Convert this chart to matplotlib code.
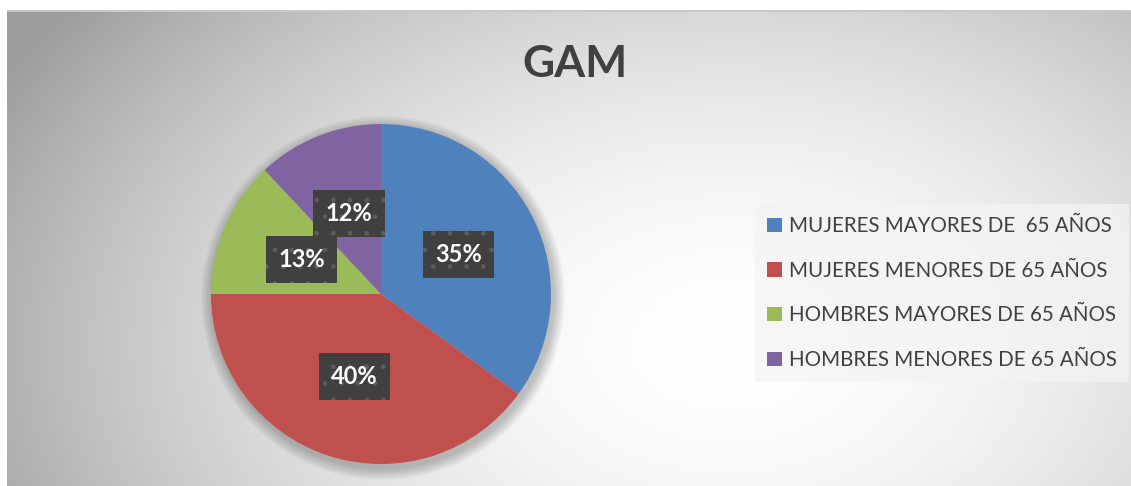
import numpy as np
import matplotlib.pyplot as plt
from matplotlib.patches import Circle, Rectangle

categories = ['MUJERES MAYORES DE  65 AÑOS', 'MUJERES MENORES DE 65 AÑOS',
              'HOMBRES MAYORES DE 65 AÑOS', 'HOMBRES MENORES DE 65 AÑOS']
values = [35, 40, 13, 12]
colors = ['#4f81bd', '#c0504d', '#9bbb59', '#8064a2']
title = 'GAM'

W, H = 1131, 486
fig = plt.figure(figsize=(W / 100, H / 100), dpi=100)
fig.patch.set_facecolor('white')
ax = fig.add_axes([0, 0, 1, 1])

# radial gradient background of the chart area
x0, x1, y0, y1 = 7, W, 0, H - 11
xx, yy = np.meshgrid(np.linspace(x0, x1, 400), np.linspace(y0, y1, 200))
d = np.sqrt(((xx - 730) / 640) ** 2 + ((yy - 140) / 430) ** 2)
g = 1 - 0.24 * np.clip(d, 0, 1.3) ** 1.8
ax.imshow(np.dstack([g, g, g]), extent=(x0, x1, y0, y1), origin='lower',
          aspect='auto', zorder=0, vmin=0, vmax=1)
ax.add_patch(Rectangle((x0, y1 - 1), x1 - x0, 1.5, color='#c8c8c8', lw=0, zorder=1))

# soft shadow under the pie
cx, cy, r = 381, 192, 170
for i in range(12):
    ax.add_patch(Circle((cx + 2, cy - 4), r + 12 - i, color='black', alpha=0.018,
                        lw=0, zorder=1))

wedges, texts, autotexts = ax.pie(values, colors=colors, startangle=90,
                                  counterclock=False, center=(cx, cy), radius=r,
                                  autopct='%1.0f%%', pctdistance=0.51,
                                  wedgeprops=dict(linewidth=0, zorder=2))
for w in wedges:
    w.set_zorder(2)
for t in autotexts:
    t.set_color('white')
    t.set_fontfamily('Lato')
    t.set_fontweight('bold')
    t.set_fontsize(17)
    t.set_zorder(5)
    t.set_bbox(dict(boxstyle='square,pad=0.52', facecolor='#404040',
                    edgecolor='#5c5c5c', linewidth=0, hatch='.'))

ax.set_xlim(0, W)
ax.set_ylim(0, H)
ax.set_aspect('auto')
ax.axis('off')

fig.text(575 / W, 1 - 64 / H, title, ha='center', va='center', fontsize=32,
         fontweight='bold', color='#404040', family='Lato')

leg = fig.legend(wedges, categories, loc='center left',
                 bbox_to_anchor=(755 / W, 1 - 293 / H), frameon=True,
                 prop=dict(family='Lato', size=14.8), labelcolor='#404040',
                 handlelength=0.7, handleheight=0.7, handletextpad=0.35,
                 labelspacing=1.2, borderpad=0.6, borderaxespad=0,
                 fancybox=False)
leg.get_frame().set_facecolor('#f4f4f4')
leg.get_frame().set_alpha(0.75)
leg.get_frame().set_linewidth(0)

fig.savefig('out.png', dpi=100)
